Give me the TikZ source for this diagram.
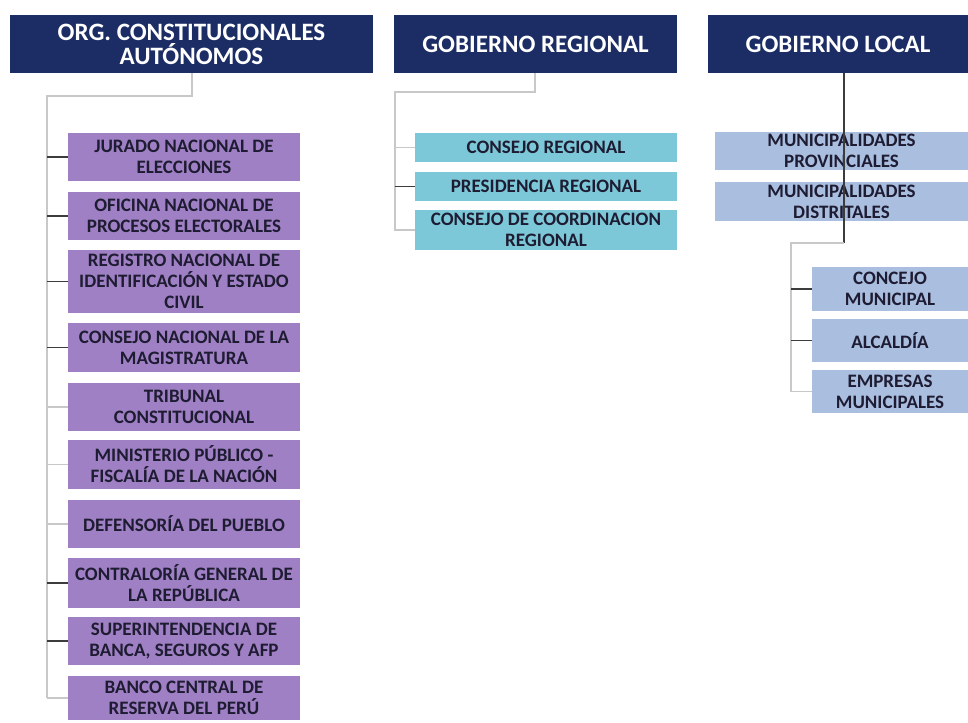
\documentclass[tikz,border=0pt]{standalone}
\usepackage{fontspec}
\setmainfont{Carlito}
\definecolor{navy}{RGB}{27,45,100}
\definecolor{lila}{RGB}{160,128,196}
\definecolor{cian}{RGB}{124,200,216}
\definecolor{celeste}{RGB}{170,190,224}
\definecolor{boxtext}{RGB}{30,28,50}
\definecolor{linegray}{RGB}{200,200,200}
\definecolor{linedark}{RGB}{60,60,60}
\tikzset{
  hdr/.style={fill=navy, text=white, font=\bfseries\fontsize{25}{24}\selectfont, align=center, inner sep=0pt},
  item/.style={text=boxtext, font=\bfseries\fontsize{19}{21}\selectfont, align=center, inner sep=0pt},
  purple/.style={item, fill=lila},
  cyanbox/.style={item, fill=cian},
  bluebox/.style={item, fill=celeste},
  conn/.style={draw=linegray, line width=1.2pt},
  darkconn/.style={draw=linedark, line width=1.2pt},
}
\begin{document}
\begin{tikzpicture}[x=1pt, y=-1pt]
\useasboundingbox (0,0) rectangle (968,722);
\fill[white] (0,0) rectangle (968,722);
% headers
\node[hdr, minimum width=363pt, minimum height=58pt] (org) at (191.5,44) {ORG. CONSTITUCIONALES\\AUTÓNOMOS};
\node[hdr, minimum width=283pt, minimum height=58pt] (reg) at (535.5,44) {GOBIERNO REGIONAL};
\node[hdr, minimum width=260pt, minimum height=58pt] (loc) at (838,44) {GOBIERNO LOCAL};
% left column
\begin{scope}[every node/.append style={purple, minimum width=232pt}]
\node[minimum height=48pt] (jne) at (184,157) {JURADO NACIONAL DE\\ELECCIONES};
\node[minimum height=48pt] (onpe) at (184,216) {OFICINA NACIONAL DE\\PROCESOS ELECTORALES};
\node[minimum height=63pt] (reniec) at (184,281.5) {REGISTRO NACIONAL DE\\IDENTIFICACIÓN Y ESTADO\\CIVIL};
\node[minimum height=49pt] (cnm) at (184,347.5) {CONSEJO NACIONAL DE LA\\MAGISTRATURA};
\node[minimum height=48pt] (tc) at (184,407) {TRIBUNAL\\CONSTITUCIONAL};
\node[minimum height=49pt] (mp) at (184,464.5) {MINISTERIO PÚBLICO -\\FISCALÍA DE LA NACIÓN};
\node[minimum height=48pt] (dp) at (184,524) {DEFENSORÍA DEL PUEBLO};
\node[minimum height=50pt] (cgr) at (184,583) {CONTRALORÍA GENERAL DE\\LA REPÚBLICA};
\node[minimum height=48pt] (sbs) at (184,641) {SUPERINTENDENCIA DE\\BANCA, SEGUROS Y AFP};
\node[minimum height=44pt] (bcr) at (184,698) {BANCO CENTRAL DE\\RESERVA DEL PERÚ};
\end{scope}
% middle column
\begin{scope}[every node/.append style={cyanbox, minimum width=262pt}]
\node[minimum height=29pt] (cr) at (546,147.5) {CONSEJO REGIONAL};
\node[minimum height=28pt] (pr) at (546,186.5) {PRESIDENCIA REGIONAL};
\node[minimum height=40pt] (ccr) at (546,230) {CONSEJO DE COORDINACION\\REGIONAL};
\end{scope}
% right column
\begin{scope}[every node/.append style={bluebox}]
\node[minimum width=253pt, minimum height=38pt] (mprov) at (841.5,151) {MUNICIPALIDADES\\PROVINCIALES};
\node[minimum width=253pt, minimum height=39pt] (mdist) at (841.5,201.5) {MUNICIPALIDADES\\DISTRITALES};
\node[minimum width=156pt, minimum height=44pt] (cm) at (890,289) {CONCEJO\\MUNICIPAL};
\node[minimum width=156pt, minimum height=43pt] (alc) at (890,340.5) {ALCALDÍA};
\node[minimum width=156pt, minimum height=43pt] (emp) at (890,391.5) {EMPRESAS\\MUNICIPALES};
\end{scope}
% connectors left
\coordinate (Ltop) at (192,96);
\coordinate (Lcorner) at (47,96);
\coordinate (Lend) at (47,698);
\draw[conn] (org.south -| Ltop) -- (Ltop) -- (Lcorner) -- (Lend);
\foreach \n in {jne,onpe,reniec,cnm,cgr,sbs} \draw[darkconn] (Lcorner |- \n.west) -- (\n.west);
\foreach \n in {tc,mp,dp,bcr} \draw[conn] (Lcorner |- \n.west) -- (\n.west);
% connectors middle
\coordinate (Mtop) at (535,92);
\coordinate (Mcorner) at (395,92);
\draw[conn] (reg.south -| Mtop) -- (Mtop) -- (Mcorner) -- (Mcorner |- ccr.west) -- (ccr.west);
\draw[conn] (Mcorner |- cr.west) -- (cr.west);
\draw[darkconn] (Mcorner |- pr.west) -- (pr.west);
% connectors right
\coordinate (Rtop) at (844,243);
\coordinate (Rcorner) at (791,243);
\draw[darkconn] (loc.south -| Rtop) -- (Rtop);
\draw[conn] (Rtop) -- (Rcorner) -- (Rcorner |- emp.west) -- (emp.west);
\draw[darkconn] (Rcorner |- cm.west) -- (cm.west);
\draw[darkconn] (Rcorner |- alc.west) -- (alc.west);
\end{tikzpicture}
\end{document}
